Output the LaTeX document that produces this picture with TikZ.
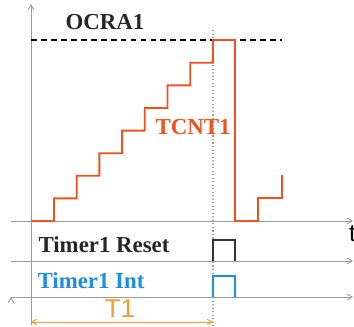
\documentclass[tikz,border=0pt]{standalone}
\usepackage{fontspec}
\setmainfont{Liberation Serif}
\setsansfont{Liberation Sans}
\usetikzlibrary{arrows}
\definecolor{cntred}{HTML}{F2511B}
\definecolor{intblue}{HTML}{1C8EE3}
\definecolor{tone}{HTML}{F79A2E}
\definecolor{axisgray}{HTML}{9A9A9A}

\begin{document}
\begin{tikzpicture}[x=0.03cm, y=-0.03cm, >=angle 60]
	\tikzstyle{axis} = [draw, axisgray, line width=0.8pt]
	\tikzstyle{lbl} = [inner sep=0pt, font=\fontsize{19.5}{19.5}\selectfont\bfseries]
	\tikzstyle{wave} = [line width=1.6pt, line join=miter]
	\useasboundingbox (0,0) rectangle (354,327);
	% axes
	\coordinate (O) at (31,325);
	\coordinate (Y) at (31,4);
	\coordinate (C0) at (11,221);
	\coordinate (C1) at (353,221);
	\coordinate (R0) at (11,261);
	\coordinate (R1) at (353,261);
	\coordinate (I0) at (11,297);
	\coordinate (I1) at (353,297);
	\path[->, axis]
	  (O) edge (Y)
	  (C0) edge (C1)
	  (R0) edge (R1)
	  (I0) edge (I1)
	  ;
	% compare level and match instant
	\coordinate (M0) at (31,40);
	\coordinate (M1) at (282,40);
	\draw[black, line width=1.1pt, dash pattern=on 5pt off 3.5pt] (M0) -- (M1);
	\coordinate (D0) at (213,30);
	\coordinate (D1) at (213,326);
	\draw[axisgray, line width=1pt, dotted] (D0) -- (D1);
	% counter
	\draw[wave, cntred] (31,221) -- (54,221)
	  \foreach \i in {1,...,7} { -- ++(0,-22.6) -- ++(22.7,0) }
	  -- (213,40) -- (235,40) -- (235,221) -- (258,221) -- (258,198)
	  -- (282,198) -- (282,175);
	% reset and interrupt pulses
	\draw[wave, black!80] (213,261) -- (213,240) -- (235,240) -- (235,261);
	\draw[wave, intblue] (213,297) -- (213,276) -- (235,276) -- (235,297);
	% labels
	\node[lbl, black!85] (OCR) at (105,22) {OCRA1};
	\node[lbl, cntred] (TCNT) at (193,127) {TCNT1};
	\node[lbl, black!85] (RST) at (104,245) {Timer1 Reset};
	\node[lbl, intblue] (INT) at (91,281) {Timer1 Int};
	\node[inner sep=0pt, anchor=west, font=\sffamily\fontsize{21}{21}\selectfont] (T) at (349,234) {t};
	% period
	\coordinate (P0) at (31,322);
	\coordinate (P1) at (213,322);
	\draw[<->, tone, line width=0.8pt] (P0) -- (P1);
	\node[inner sep=0pt, tone, font=\sffamily\fontsize{22}{22}\selectfont] (T1) at (120,309) {T1};
\end{tikzpicture}
\end{document}
